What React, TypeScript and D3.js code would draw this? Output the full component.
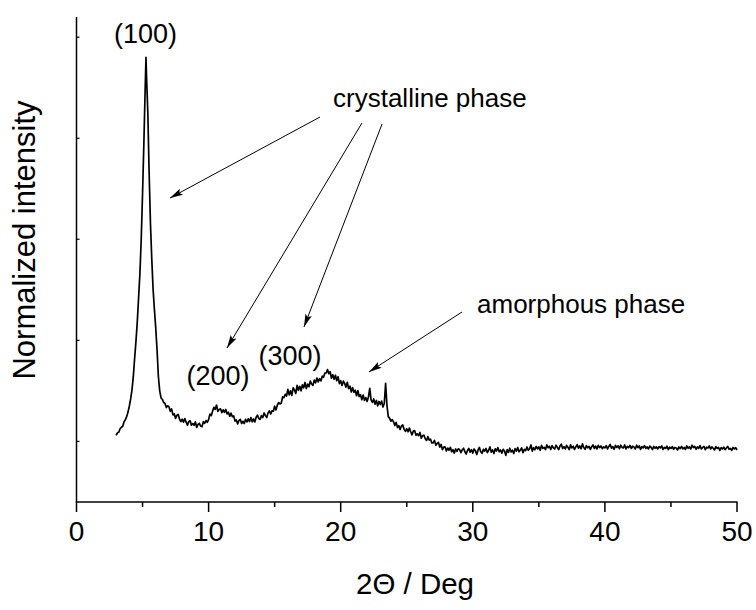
import React from "react";
import * as d3 from "d3";

// ---- Data: 2θ (deg) vs normalized intensity (a.u.) ----
// main (100) reflection and its rising edge, read point by point
const risingEdgeAndPeak: [number, number][] = [
  [3.0, 1060], [3.1, 1085], [3.2, 1090], [3.3, 1125], [3.4, 1140], [3.5, 1150],
  [3.6, 1195], [3.7, 1215], [3.8, 1245], [3.9, 1290], [4.0, 1350], [4.1, 1420],
  [4.2, 1510], [4.3, 1640], [4.4, 1820], [4.5, 1990], [4.6, 2180], [4.7, 2420],
  [4.8, 2660], [4.9, 3000], [5.0, 3450], [5.1, 3950], [5.2, 4500], [5.26, 4800],
  [5.3, 4620], [5.4, 4250], [5.5, 3650], [5.6, 3150], [5.7, 2800], [5.8, 2500],
  [5.9, 2300], [6.0, 2120], [6.1, 1900], [6.2, 1640], [6.3, 1500], [6.4, 1430],
  [6.5, 1415], [6.6, 1385], [6.7, 1375], [6.8, 1335], [6.9, 1352],
];

// scan segments, 0.1° step (counts listed per step)
const scanStep = 0.1;
const segment7to13 = {
  start: 7.0,
  counts: [
    1343, 1298, 1321, 1262, 1273, 1227, 1259, 1266, 1219, 1196,
    1220, 1190, 1226, 1190, 1160, 1197, 1203, 1159, 1176, 1159,
    1193, 1138, 1168, 1178, 1151, 1144, 1195, 1179, 1206, 1189,
    1215, 1270, 1254, 1298, 1337, 1316, 1360, 1297, 1316, 1322,
    1285, 1312, 1287, 1316, 1272, 1288, 1248, 1279, 1244, 1252,
    1201, 1212, 1173, 1206, 1218, 1177, 1199, 1177, 1218, 1193,
  ],
};
const segment13to22 = {
  start: 13.0,
  counts: [
    1223, 1196, 1236, 1194, 1222, 1192, 1239, 1260, 1227, 1218,
    1255, 1235, 1281, 1255, 1235, 1282, 1301, 1271, 1302, 1299,
    1348, 1311, 1358, 1384, 1371, 1377, 1440, 1432, 1466, 1449,
    1515, 1460, 1500, 1455, 1530, 1510, 1475, 1555, 1505, 1545,
    1500, 1560, 1530, 1583, 1522, 1567, 1541, 1597, 1568, 1554,
    1607, 1580, 1627, 1588, 1621, 1598, 1645, 1634, 1675, 1677,
    1710, 1670, 1690, 1625, 1660, 1615, 1655, 1600, 1640, 1572,
    1600, 1553, 1596, 1574, 1537, 1585, 1523, 1546, 1489, 1532,
    1485, 1506, 1452, 1503, 1444, 1460, 1412, 1459, 1406, 1433,
  ],
};
const segment22to29 = {
  start: 22.0,
  counts: [
    1395, 1440, 1525, 1410, 1385, 1420, 1368, 1405, 1352, 1395,
    1365, 1398, 1340, 1375, 1575, 1360, 1245, 1230, 1200, 1215,
    1193, 1157, 1188, 1137, 1156, 1117, 1153, 1163, 1119, 1099,
    1125, 1095, 1131, 1095, 1065, 1102, 1106, 1060, 1075, 1056,
    1088, 1031, 1058, 1061, 1026, 1009, 1047, 1013, 1022, 984,
    985, 1009, 963, 979, 990, 943, 969, 918, 943, 946,
    905, 934, 912, 941, 897, 917, 884, 925, 902, 926,
  ],
};
const segment29to50 = {
  start: 29.0,
  counts: [
    920, 888, 915, 932, 897, 875, 912, 930, 893, 918,
    884, 925, 906, 870, 915, 940, 898, 882, 921, 903,
    930, 889, 912, 945, 893, 915, 880, 927, 905, 938,
    897, 915, 884, 921, 905, 862, 918, 890, 932, 896,
    912, 880, 928, 903, 940, 897, 915, 935, 888, 921,
    908, 945, 912, 927, 965, 903, 938, 917, 950, 925,
    946, 912, 960, 930, 941, 918, 965, 937, 952, 920,
    958, 935, 925, 962, 940, 918, 955, 972, 930, 948,
    925, 960, 942, 918, 966, 935, 952, 920, 945, 968,
    932, 955, 927, 975, 940, 922, 958, 936, 950, 920,
    947, 965, 930, 952, 925, 960, 938, 955, 928, 946,
    935, 958, 925, 950, 970, 932, 948, 922, 960, 940,
    955, 928, 962, 940, 935, 965, 925, 950, 938, 960,
    930, 952, 945, 925, 962, 938, 955, 920, 948, 935,
    958, 930, 945, 925, 952, 940, 918, 950, 932, 945,
    925, 948, 935, 955, 920, 940, 930, 952, 918, 942,
    930, 948, 922, 940, 935, 915, 945, 928, 950, 925,
    940, 920, 955, 932, 945, 925, 962, 938, 950, 922,
    945, 930, 958, 925, 940, 950, 918, 942, 935, 955,
    925, 945, 932, 915, 948, 930, 940, 912, 938, 925,
    942, 918, 935, 950, 922, 930, 912, 940, 925, 938,
    915,
  ],
};

const xMajorTicks = [0, 10, 20, 30, 40, 50];
const xMinorTicks = [5, 15, 25, 35, 45];
const yTicks = [1000, 2000, 3000, 4000, 5000];

const xTitle = "2\u0398 / Deg";
const yTitle = "Normalized intensity";

// annotations in data coordinates
const peakLabels: { text: string; x: number; y: number }[] = [
  { text: "(100)", x: 5.22, y: 4943 },
  { text: "(200)", x: 10.71, y: 1558 },
  { text: "(300)", x: 16.16, y: 1756 },
];
const phaseLabels: { text: string; x: number; y: number }[] = [
  { text: "crystalline phase", x: 19.42, y: 4309 },
  { text: "amorphous phase", x: 30.32, y: 2271 },
];
const arrows: { x1: number; y1: number; x2: number; y2: number }[] = [
  { x1: 18.43, y1: 4210, x2: 7.08, y2: 3409 },
  { x1: 21.61, y1: 4151, x2: 11.39, y2: 1924 },
  { x1: 23.13, y1: 4141, x2: 17.22, y2: 2132 },
  { x1: 29.18, y1: 2280, x2: 22.14, y2: 1687 },
];

const W = 756;
const H = 610;
const FONT = "'Liberation Sans', Arial, sans-serif";

function expand(seg: { start: number; counts: number[] }): [number, number][] {
  return seg.counts.map((c, i) => [+(seg.start + i * scanStep).toFixed(2), c]);
}

export default function App() {
  const x = d3.scaleLinear().domain([0, 50]).range([76.5, 737]);
  const y = d3.scaleLinear().domain([400, 5200]).range([502, 17]);
  const data: [number, number][] = [
    ...risingEdgeAndPeak,
    ...expand(segment7to13),
    ...expand(segment13to22),
    ...expand(segment22to29),
    ...expand(segment29to50),
  ];
  const line = d3
    .line<[number, number]>()
    .x((d) => x(d[0]))
    .y((d) => y(d[1]));

  const y0 = y.range()[0];

  return (
    <svg
      width={W}
      height={H}
      viewBox={`0 0 ${W} ${H}`}
      style={{ position: "absolute", left: 0, top: 0, display: "block", background: "#fff" }}
      fontFamily={FONT}
    >
      <defs>
        <marker
          id="ah"
          markerUnits="userSpaceOnUse"
          markerWidth={14}
          markerHeight={8}
          refX={13}
          refY={4}
          orient="auto"
        >
          <path d="M0,0.6 L13,4 L0,7.4 L2.5,4 Z" fill="#000" />
        </marker>
      </defs>
      <rect width={W} height={H} fill="#fff" />

      {/* axes */}
      <line x1={x(0)} x2={x(0)} y1={y(5200)} y2={y0} stroke="#000" strokeWidth={1.5} />
      <line x1={x(0) - 0.75} x2={x(50) + 0.5} y1={y0} y2={y0} stroke="#000" strokeWidth={1.5} />
      {yTicks.map((t) => (
        <line key={"yt" + t} x1={x(0)} x2={x(0) + 3} y1={y(t)} y2={y(t)} stroke="#000" strokeWidth={1.2} />
      ))}
      {xMajorTicks.map((t) => (
        <g key={"xt" + t}>
          <line x1={x(t)} x2={x(t)} y1={y0} y2={y0 + 10} stroke="#000" strokeWidth={1.5} />
          <text x={x(t)} y={y0 + 39} textAnchor="middle" fontSize={28}>
            {t}
          </text>
        </g>
      ))}
      {xMinorTicks.map((t) => (
        <line key={"xm" + t} x1={x(t)} x2={x(t)} y1={y0} y2={y0 + 5} stroke="#000" strokeWidth={1.5} />
      ))}

      <text x={415} y={594} textAnchor="middle" fontSize={29.5}>
        {xTitle}
      </text>
      <text
        transform={`translate(${35},${240}) rotate(-90)`}
        textAnchor="middle"
        fontSize={31}
      >
        {yTitle}
      </text>

      {/* curve */}
      <path d={line(data) ?? ""} fill="none" stroke="#000" strokeWidth={1.7} strokeLinejoin="round" />

      {/* annotations */}
      {arrows.map((a, i) => (
        <line
          key={"ar" + i}
          x1={x(a.x1)}
          y1={y(a.y1)}
          x2={x(a.x2)}
          y2={y(a.y2)}
          stroke="#000"
          strokeWidth={1}
          markerEnd="url(#ah)"
        />
      ))}
      {peakLabels.map((l) => (
        <text key={l.text} x={x(l.x)} y={y(l.y)} textAnchor="middle" fontSize={27}>
          {l.text}
        </text>
      ))}
      {phaseLabels.map((l) => (
        <text key={l.text} x={x(l.x)} y={y(l.y)} fontSize={26}>
          {l.text}
        </text>
      ))}
    </svg>
  );
}
